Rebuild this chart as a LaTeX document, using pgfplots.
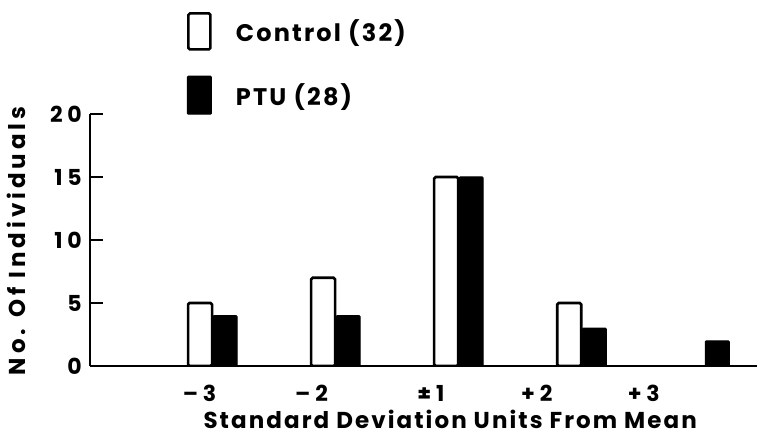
\documentclass[border=0pt]{standalone}
\usepackage{fontspec}
\setmainfont{Poppins}
\newfontfamily\spaced[LetterSpace=9]{Poppins}
\newfontfamily\yspaced[LetterSpace=17]{Poppins}
\newfontfamily\wide[LetterSpace=22]{Poppins}
\usepackage{pgfplots}
\pgfplotsset{compat=1.18}

\begin{document}
\begin{tikzpicture}
\begin{axis}[
    scale only axis,
    width=667bp, height=252bp,
    xmin=0, xmax=5.42,
    ymin=0, ymax=20,
    axis x line=bottom, axis y line=left,
    axis line style={-, line width=2.4bp},
    ybar=0pt, bar width=24bp,
    ytick={0,5,10,15,20},
    tick align=inside,
    major tick length=13bp,
    ytick style={line width=2.2bp, black},
    xtick={0.89,1.8,2.77,3.63,4.5},
    xticklabels={–3, –2, ±1, +2, +3},
    xtick style={draw=none},
    /pgf/number format/assume math mode=true,
    tick label style={font=\wide\bfseries\fontsize{22bp}{24bp}\selectfont, inner sep=0pt},
    yticklabel style={anchor=east, xshift=-8bp},
    xticklabel style={anchor=north, yshift=-19bp},
    xlabel={Standard Deviation Units From Mean},
    ylabel={No. Of Individuals},
    xlabel style={font=\spaced\bfseries\fontsize{23bp}{25bp}\selectfont,
        at={(axis description cs:0.54,-0.212)}, anchor=center},
    ylabel style={font=\yspaced\bfseries\fontsize{23bp}{25bp}\selectfont,
        at={(axis description cs:-0.111,0.496)}, anchor=center},
    legend style={draw=none, fill=none, at={(0.145,1.405)}, anchor=north west,
        font=\spaced\bfseries\fontsize{24bp}{26bp}\selectfont,
        row sep=25bp, inner sep=0pt,
        /tikz/every odd column/.append style={column sep=22bp}},
    legend cell align=left,
]
\addplot[draw=black, fill=white, line width=2.6bp, bar shift=-13bp, rounded corners=1.5bp,
    legend image code/.code={\draw[draw=black, fill=white, line width=2.6bp, rounded corners=1.5bp] (1bp,-18bp) rectangle (23bp,18bp);}]
    coordinates {(1,5) (2,7) (3,15) (4,5)};
\addplot[draw=black, fill=black, line width=1bp, bar shift=12bp, rounded corners=1bp,
    legend image code/.code={\draw[draw=black, fill=black, line width=1bp, rounded corners=1bp] (0bp,-19bp) rectangle (24bp,19bp);}]
    coordinates {(1,4) (2,4) (3,15) (4,3) (5,2)};
\legend{Control (32), PTU (28)}
\end{axis}
\pgfresetboundingbox
\path[use as bounding box] (-90bp,-77bp) rectangle (667bp,366bp);
\end{tikzpicture}
\end{document}
